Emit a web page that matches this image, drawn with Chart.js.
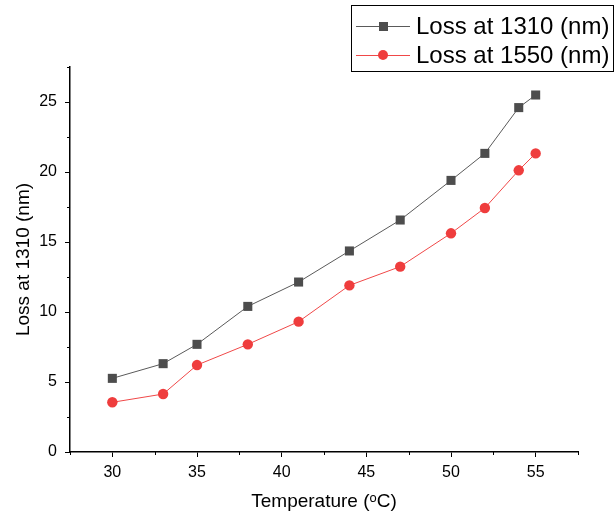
<!DOCTYPE html>
<html>
<head>
    <title>Loss vs Temperature</title>
    <script src="https://cdn.jsdelivr.net/npm/chart.js"></script>
    <style>
        body { margin: 0; background: #fff; overflow: hidden; }
        #wrap { width: 615px; height: 515px; position: relative; }
    </style>
</head>
<body>
    <div id="wrap"><canvas id="lossChart"></canvas></div>
<script>
// temperatures (x) and the two loss series
let temperatures = [30, 33, 35, 38, 41, 44, 47, 50, 52, 54, 55];
let loss1310 = [5.26, 6.31, 7.69, 10.4, 12.14, 14.36, 16.57, 19.4, 21.33, 24.6, 25.5];
let loss1550 = [3.55, 4.14, 6.21, 7.69, 9.31, 11.9, 13.24, 15.62, 17.43, 20.12, 21.33];
let seriesNames = ['Loss at 1310 (nm)', 'Loss at 1550 (nm)'];

// axis ticks
let xTicks = [30, 35, 40, 45, 50, 55];
let xMinorTicks = [27.5, 32.5, 37.5, 42.5, 47.5, 52.5, 57.5];
let yTicks = [0, 5, 10, 15, 20, 25];
let yMinorTicks = [2.5, 7.5, 12.5, 17.5, 22.5, 27.5];

const FONT = "'Liberation Sans', Arial, sans-serif";

// minor ticks are shorter, Chart.js has no minor ticks so draw them here
const minorTicks = {
    id: 'minorTicks',
    afterDraw(chart) {
        const ctx = chart.ctx;
        const xs = chart.scales.x, ys = chart.scales.y;
        ctx.save();
        ctx.strokeStyle = '#000';
        ctx.lineWidth = 1;
        ctx.beginPath();
        xMinorTicks.forEach(v => {
            const px = Math.round(xs.getPixelForValue(v)) + 0.5;
            ctx.moveTo(px, xs.top);
            ctx.lineTo(px, xs.top + 3);
        });
        yMinorTicks.forEach(v => {
            const py = Math.round(ys.getPixelForValue(v)) + 0.5;
            ctx.moveTo(ys.right, py);
            ctx.lineTo(ys.right - 3, py);
        });
        ctx.stroke();
        ctx.restore();
    }
};

// boxed legend in the top right corner
const boxLegend = {
    id: 'boxLegend',
    afterDraw(chart) {
        const ctx = chart.ctx;
        ctx.save();
        ctx.strokeStyle = '#000';
        ctx.lineWidth = 1;
        ctx.strokeRect(351.5, 5.5, 262, 66);
        ctx.font = '24px ' + FONT;
        ctx.textBaseline = 'middle';
        chart.data.datasets.forEach((ds, i) => {
            const y = 26 + i * 29;
            ctx.strokeStyle = ds.borderColor;
            ctx.lineWidth = 1;
            ctx.beginPath();
            ctx.moveTo(356, y + 0.5);
            ctx.lineTo(410, y + 0.5);
            ctx.stroke();
            ctx.fillStyle = ds.pointBackgroundColor;
            if (ds.pointStyle === 'rect') {
                ctx.fillRect(379, y - 4, 9, 9);
            } else {
                ctx.beginPath();
                ctx.arc(383, y, 5, 0, Math.PI * 2);
                ctx.fill();
            }
            ctx.fillStyle = '#000';
            ctx.fillText(ds.label, 416, y + 1);
        });
        ctx.restore();
    }
};

const ctx = document.getElementById('lossChart').getContext('2d');
const lossChart = new Chart(ctx, {
    type: 'line',
    data: {
        datasets: [{
            label: seriesNames[0],
            data: temperatures.map((t, i) => ({ x: t, y: loss1310[i] })),
            borderColor: '#5a5a5a',
            borderWidth: 1,
            pointStyle: 'rect',
            pointRadius: 6.4,
            pointBackgroundColor: '#4d4d4d',
            pointBorderWidth: 0
        }, {
            label: seriesNames[1],
            data: temperatures.map((t, i) => ({ x: t, y: loss1550[i] })),
            borderColor: '#f04848',
            borderWidth: 1,
            pointStyle: 'circle',
            pointRadius: 5.2,
            pointBackgroundColor: '#ef3d3d',
            pointBorderWidth: 0
        }]
    },
    options: {
        responsive: true,
        maintainAspectRatio: false,
        animation: false,
        layout: { padding: { top: 67, right: 37, left: 0, bottom: 0 } },
        plugins: { legend: { display: false }, tooltip: { enabled: false } },
        scales: {
            x: {
                type: 'linear',
                min: 27.5,
                max: 57.5,
                afterBuildTicks: s => { s.ticks = xTicks.map(v => ({ value: v })); },
                afterFit: s => { s.height = 63; },
                border: { display: true, color: '#000', width: 1.5 },
                grid: { drawOnChartArea: false, drawTicks: true, tickLength: 5, color: '#000' },
                ticks: { color: '#000', font: { family: FONT, size: 16 }, padding: 6, maxRotation: 0 },
                title: {
                    display: true,
                    text: 'Temperature (\u1D52C)',
                    color: '#000',
                    font: { family: FONT, size: 19 },
                    padding: { top: 0, bottom: 2 }
                }
            },
            y: {
                min: 0,
                max: 27.5,
                afterBuildTicks: s => { s.ticks = yTicks.map(v => ({ value: v })); },
                afterFit: s => { s.width = 70; },
                border: { display: true, color: '#000', width: 1.5 },
                grid: { drawOnChartArea: false, drawTicks: true, tickLength: 5, color: '#000' },
                ticks: { color: '#000', font: { family: FONT, size: 16 }, padding: 8 },
                title: {
                    display: true,
                    text: 'Loss at 1310 (nm)',
                    color: '#000',
                    font: { family: FONT, size: 19 },
                    padding: { top: 12, bottom: 0 }
                }
            }
        }
    },
    plugins: [minorTicks, boxLegend]
});
</script>
</body>
</html>
